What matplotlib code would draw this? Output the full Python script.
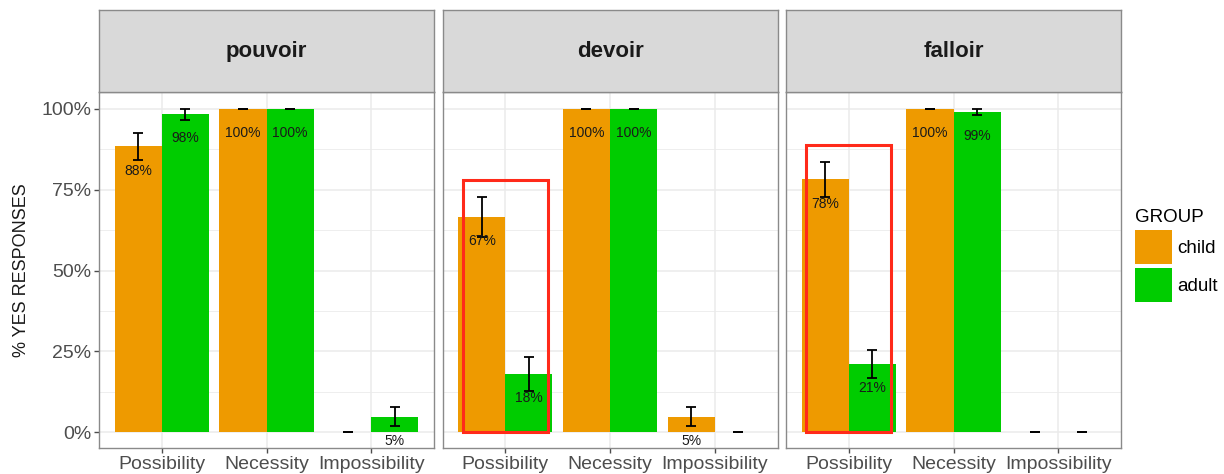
import numpy as np
import matplotlib
matplotlib.use("Agg")
import matplotlib.pyplot as plt
from matplotlib.patches import Rectangle, Patch
from matplotlib.ticker import PercentFormatter, MultipleLocator

plt.rcParams["font.family"] = ["Liberation Sans", "DejaVu Sans"]

# data
verbs = ["pouvoir", "devoir", "falloir"]
conditions = ["Possibility", "Necessity", "Impossibility"]
groups = ["child", "adult"]
colors = ["#EE9A00", "#00CC00"]

child_mean = [[0.884, 1.00, 0.00], [0.667, 1.00, 0.047], [0.782, 1.00, 0.00]]
child_err = [[0.043, 0.00, 0.00], [0.062, 0.00, 0.029], [0.055, 0.00, 0.00]]
adult_mean = [[0.984, 1.00, 0.047], [0.180, 1.00, 0.00], [0.210, 0.990, 0.00]]
adult_err = [[0.017, 0.00, 0.029], [0.053, 0.00, 0.00], [0.043, 0.010, 0.00]]

child_lab = [["88%", "100%", ""], ["67%", "100%", "5%"], ["78%", "100%", ""]]
adult_lab = [["98%", "100%", "5%"], ["18%", "100%", ""], ["21%", "99%", ""]]

# red highlight boxes (panel index, top value)
box_panels = [1, 2]
box_tops = [0.78, 0.889]

W, H = 1224, 474
fig = plt.figure(figsize=(W / 100, H / 100), dpi=100)

lefts = [99, 442.5, 786]
pw = 335
top, bottom, strip_top = 92, 448, 10.5
border = "#8A8A8A"
grid_c = "#EBEBEB"

x = np.arange(len(conditions))
bw = 0.45

axes = []
for k, verb in enumerate(verbs):
    ax = fig.add_axes([lefts[k] / W, (H - bottom) / H, pw / W, (bottom - top) / H])
    axes.append(ax)
    ax.set_xlim(-0.6, 2.6)
    ax.set_ylim(-0.0495, 1.0526)
    ax.yaxis.set_major_locator(MultipleLocator(0.25))
    ax.yaxis.set_minor_locator(MultipleLocator(0.125))
    ax.grid(which="major", color=grid_c, lw=1.1, zorder=0)
    ax.grid(which="minor", axis="y", color=grid_c, lw=0.6, zorder=0)
    ax.set_axisbelow(True)

    for g, (means, errs, labs) in enumerate([(child_mean, child_err, child_lab),
                                             (adult_mean, adult_err, adult_lab)]):
        xs = x + (g - 0.5) * bw
        ax.bar(xs, means[k], width=bw, color=colors[g], zorder=2)
        ax.errorbar(xs, means[k], yerr=errs[k], fmt="none", ecolor="black",
                    elinewidth=1.3, capsize=3.6, capthick=1.3, zorder=3)
        for xi, m, lab in zip(xs, means[k], labs[k]):
            if lab:
                ax.text(xi, m - 0.075, lab, ha="center", va="center",
                        fontsize=10, color="#1A1A1A", zorder=4)

    if k in box_panels:
        t = box_tops[box_panels.index(k)]
        ax.add_patch(Rectangle((x[0] - 0.405, 0), 0.81, t, fill=False,
                               edgecolor="#FF2A1A", lw=2.2, zorder=5))

    ax.set_xticks(x)
    ax.set_xticklabels(conditions, fontsize=14, color="#4D4D4D")
    ax.tick_params(axis="x", length=3.5, width=1, color="#4D4D4D", pad=2)
    if k == 0:
        ax.yaxis.set_major_formatter(PercentFormatter(1.0, decimals=0))
        ax.tick_params(axis="y", which="major", labelsize=14, labelcolor="#4D4D4D",
                       length=3.5, width=1, color="#4D4D4D", pad=2)
        ax.tick_params(axis="y", which="minor", length=0)
        ax.set_ylabel("% YES RESPONSES", fontsize=13, color="#1A1A1A", labelpad=8)
    else:
        ax.tick_params(axis="y", which="both", length=0, labelleft=False)
    for s in ax.spines.values():
        s.set_color(border)
        s.set_linewidth(1.0)

    # strip
    sax = fig.add_axes([lefts[k] / W, (H - top) / H, pw / W, (top - strip_top) / H])
    sax.set_facecolor("#D9D9D9")
    sax.set_xticks([])
    sax.set_yticks([])
    for s in sax.spines.values():
        s.set_color(border)
        s.set_linewidth(1.0)
    sax.text(0.5, 0.5, verb, ha="center", va="center", fontsize=16,
             fontweight="bold", color="#1A1A1A", transform=sax.transAxes)

handles = [Patch(facecolor=c, edgecolor="none") for c in colors]
leg = fig.legend(handles, groups, title="GROUP", loc="upper left",
                 bbox_to_anchor=(1135 / W, 1 - 209 / H), frameon=False,
                 fontsize=13.5, title_fontsize=13.5, handlelength=1.95, handleheight=2.45,
                 labelspacing=0.2, borderpad=0, handletextpad=0.3, borderaxespad=0)
leg._legend_box.align = "left"

fig.savefig("out.png", dpi=100)
